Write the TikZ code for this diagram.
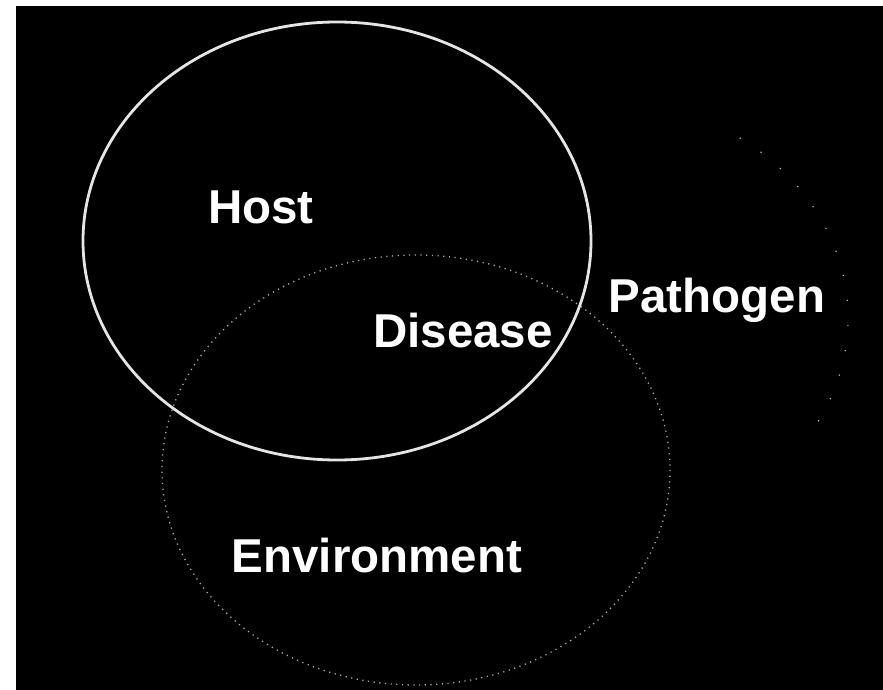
\documentclass[tikz,border=0pt]{standalone}
\usepackage{fontspec}
\setmainfont{Liberation Sans}
\begin{document}
\begin{tikzpicture}[x=1pt,y=-1pt,
  lbl/.style={text=white,font=\fontsize{47.5}{50}\selectfont\bfseries,inner sep=0pt,anchor=base},
  hostline/.style={draw=gray!20,line width=2.8pt},
  envline/.style={draw=gray!65,line width=1.3pt,dash pattern=on 1.2pt off 4.5pt},
  pathline/.style={draw=gray!55,line width=1.2pt,dash pattern=on 1.2pt off 24pt}]
\useasboundingbox (0,0) rectangle (883,690);
\fill[white] (0,0) rectangle (883,690);
\fill[black] (16,6) rectangle (883,690);
% faint visible part of the pathogen circle
\coordinate (pstart) at (739.7,137.8);
\draw[pathline] (pstart) arc[start angle=-55, end angle=30, x radius=254, y radius=220];
% environment and host circles
\draw[envline] (416,470) ellipse [x radius=254, y radius=215];
\draw[hostline] (337,241) ellipse [x radius=254, y radius=219];
% labels
\node[lbl] (host) at (261,223) {Host};
\node[lbl] (pathogen) at (717,312) {Pathogen};
\node[lbl] (disease) at (463,347) {Disease};
\node[lbl] (environment) at (377,572) {Environment};
\end{tikzpicture}
\end{document}
